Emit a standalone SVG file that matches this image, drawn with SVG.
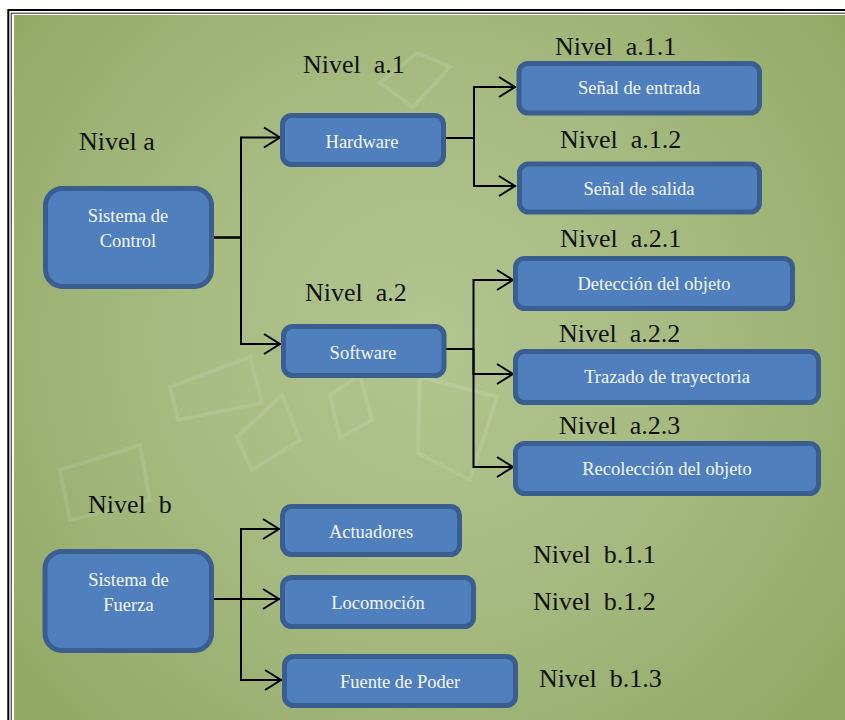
<svg xmlns="http://www.w3.org/2000/svg" width="845" height="720" viewBox="0 0 845 720">
  <defs>
    <radialGradient id="bg" cx="430" cy="340" r="520" gradientUnits="userSpaceOnUse">
      <stop offset="0" stop-color="#b3c590"/>
      <stop offset="0.55" stop-color="#a5b97f"/>
      <stop offset="1" stop-color="#93aa67"/>
    </radialGradient>
    <marker id="arrow" markerUnits="userSpaceOnUse" markerWidth="22" markerHeight="26" viewBox="-20 -13 22 26" refX="0" refY="0" orient="auto">
      <path d="M-17,-10 L-1,0 L-17,10" fill="none" stroke="#000" stroke-width="2"/>
    </marker>
  </defs>
  <style>
    .box { fill: #4f80bd; stroke: #3a5e8f; stroke-width: 5; }
    .lbl { font-family: "Liberation Serif", "Times New Roman", serif; font-size: 18.5px; fill: #f4f6fa; text-anchor: middle; }
    .lvl { font-family: "Liberation Serif", "Times New Roman", serif; font-size: 26px; fill: #111; white-space: pre; }
    .wire { fill: none; stroke: #000; stroke-width: 2; }
    .deco { fill: none; stroke: #ffffff; stroke-opacity: 0.1; stroke-width: 4; }
  </style>

  <!-- page and frame -->
  <rect x="0" y="0" width="845" height="720" fill="#ffffff"/>
  <rect x="14" y="15" width="831" height="705" fill="url(#bg)"/>
  <path d="M8.3,720 V10 H845" fill="none" stroke="#000" stroke-width="2"/>
  <path d="M11.2,720 V13.2 H845" fill="none" stroke="#222" stroke-width="1"/>

  <!-- faint backdrop shapes -->
  <g id="backdrop">
    <polygon class="deco" points="380,83 417,53 450,67 413,107"/>
    <polygon class="deco" points="420,377 497,397 470,480 418,453"/>
    <polygon class="deco" points="170,387 250,357 262,403 178,420"/>
    <polygon class="deco" points="237,437 282,395 300,440 252,470"/>
    <polygon class="deco" points="60,470 140,445 150,500 70,520"/>
    <polygon class="deco" points="330,395 360,375 372,420 340,438"/>
  </g>

  <!-- connectors -->
  <g id="connectors">
    <path class="wire" d="M214,237.5 H241 V137.5 H281" marker-end="url(#arrow)"/>
    <path class="wire" d="M214,237.5 H241 V344 H281" marker-end="url(#arrow)"/>
    <path class="wire" d="M446,138 H474 V87 H516" marker-end="url(#arrow)"/>
    <path class="wire" d="M446,138 H474 V186 H516" marker-end="url(#arrow)"/>
    <path class="wire" d="M446,349 H473.5 V280 H514" marker-end="url(#arrow)"/>
    <path class="wire" d="M473.5,349 V374 H514" marker-end="url(#arrow)"/>
    <path class="wire" d="M473.5,349 V467 H514" marker-end="url(#arrow)"/>
    <path class="wire" d="M214,599 H241 V529 H280" marker-end="url(#arrow)"/>
    <path class="wire" d="M214,599 H280" marker-end="url(#arrow)"/>
    <path class="wire" d="M241,599 V680 H282" marker-end="url(#arrow)"/>
  </g>

  <!-- nodes -->
  <g id="sistema-control">
    <rect class="box" x="45.5" y="188.5" width="166" height="98" rx="17"/>
    <text class="lbl" x="128" y="222">Sistema de</text>
    <text class="lbl" x="128" y="247">Control</text>
  </g>
  <g id="hardware">
    <rect class="box" x="282.5" y="115.5" width="161" height="49" rx="9"/>
    <text class="lbl" x="362" y="148">Hardware</text>
  </g>
  <g id="senal-entrada">
    <rect class="box" x="519" y="63.5" width="240.5" height="49.5" rx="9"/>
    <text class="lbl" x="639" y="94">Señal de entrada</text>
  </g>
  <g id="senal-salida">
    <rect class="box" x="519.5" y="164" width="240" height="48" rx="9"/>
    <text class="lbl" x="639" y="195">Señal de salida</text>
  </g>
  <g id="software">
    <rect class="box" x="283.5" y="326.5" width="160.5" height="49" rx="9"/>
    <text class="lbl" x="363" y="359">Software</text>
  </g>
  <g id="deteccion">
    <rect class="box" x="515.5" y="258.5" width="277" height="50" rx="9"/>
    <text class="lbl" x="654" y="290">Detección del objeto</text>
  </g>
  <g id="trazado">
    <rect class="box" x="515.5" y="351.5" width="303" height="51" rx="9"/>
    <text class="lbl" x="667" y="383">Trazado de trayectoria</text>
  </g>
  <g id="recoleccion">
    <rect class="box" x="515.5" y="443.5" width="303" height="50" rx="9"/>
    <text class="lbl" x="667" y="475">Recolección del objeto</text>
  </g>
  <g id="sistema-fuerza">
    <rect class="box" x="45" y="551.5" width="166.5" height="99" rx="17"/>
    <text class="lbl" x="128.5" y="586">Sistema de</text>
    <text class="lbl" x="128.5" y="611">Fuerza</text>
  </g>
  <g id="actuadores">
    <rect class="box" x="282.5" y="506.5" width="177" height="48" rx="9"/>
    <text class="lbl" x="371" y="538">Actuadores</text>
  </g>
  <g id="locomocion">
    <rect class="box" x="282.5" y="577.5" width="191" height="49" rx="9"/>
    <text class="lbl" x="378" y="609">Locomoción</text>
  </g>
  <g id="fuente-poder">
    <rect class="box" x="284.5" y="656.5" width="231" height="49" rx="9"/>
    <text class="lbl" x="400" y="688">Fuente de Poder</text>
  </g>

  <!-- level captions -->
  <g id="levels">
    <text class="lvl" x="79" y="150">Nivel a</text>
    <text class="lvl" x="303" y="73">Nivel  a.1</text>
    <text class="lvl" x="305" y="301">Nivel  a.2</text>
    <text class="lvl" x="555" y="55">Nivel  a.1.1</text>
    <text class="lvl" x="560" y="148">Nivel  a.1.2</text>
    <text class="lvl" x="560" y="247">Nivel  a.2.1</text>
    <text class="lvl" x="559" y="342">Nivel  a.2.2</text>
    <text class="lvl" x="559" y="434">Nivel  a.2.3</text>
    <text class="lvl" x="88" y="513">Nivel  b</text>
    <text class="lvl" x="533" y="563">Nivel  b.1.1</text>
    <text class="lvl" x="533" y="610">Nivel  b.1.2</text>
    <text class="lvl" x="539" y="687">Nivel  b.1.3</text>
  </g>
</svg>
